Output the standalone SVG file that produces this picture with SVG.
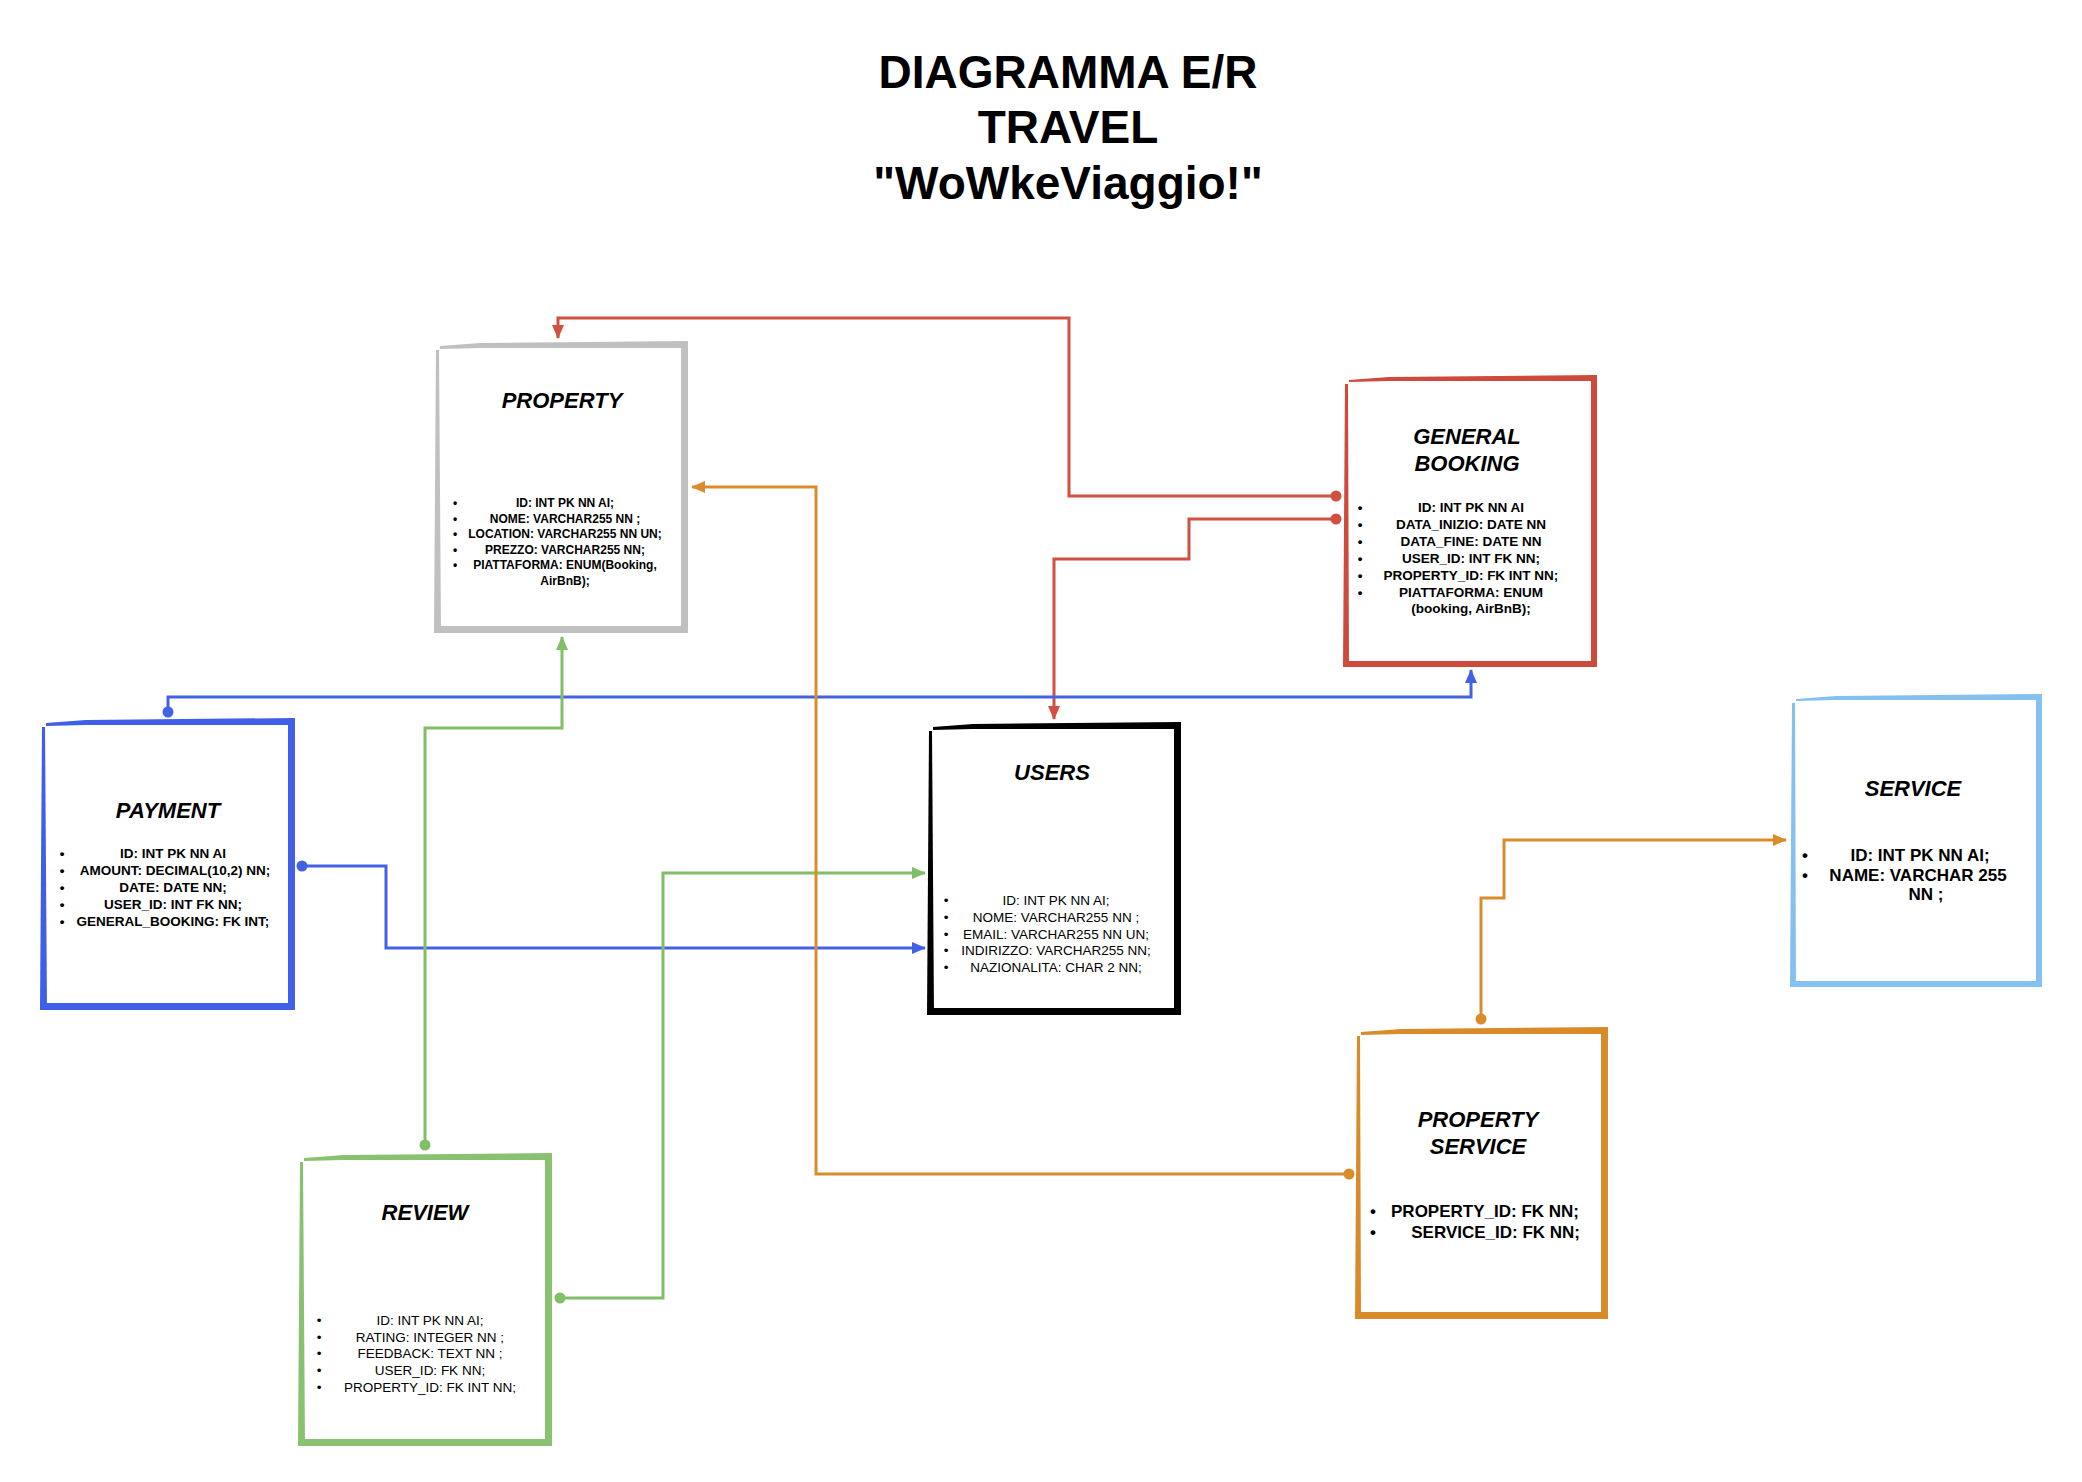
<svg xmlns="http://www.w3.org/2000/svg" width="2082" height="1482" viewBox="0 0 2082 1482">
<style>
text{font-family:"Liberation Sans",Arial,sans-serif;fill:#000}
.h{font-size:46px;font-weight:bold;text-anchor:middle}
.t{font-size:22px;font-weight:bold;font-style:italic;text-anchor:middle}
.a{text-anchor:middle}
.b{text-anchor:middle}
.s12{font-size:12px;font-weight:bold}
.s13b{font-size:13.5px;font-weight:bold}
.s13r{font-size:13.5px}
.s17{font-size:17px;font-weight:bold}
.bg{fill:#fff}
.gray{fill:#C0C0C0}.red{fill:#CE4A3C}.blue{fill:#3F5FE6}.blk{fill:#000}.lb{fill:#85C1F0}.org{fill:#D98B2A}.grn{fill:#88C270}
.c{fill:none;stroke-width:3}
.cr{stroke:#D0513F}.cb{stroke:#4262E6}.cg{stroke:#80BE68}.co{stroke:#D98C2C}
</style>
<defs>
<marker id="ar" viewBox="0 0 14 12" refX="13" refY="6" markerWidth="14" markerHeight="12" markerUnits="userSpaceOnUse" orient="auto"><path d="M0,0 L14,6 L0,12 Z" fill="#D0513F"/></marker>
<marker id="ab" viewBox="0 0 14 12" refX="13" refY="6" markerWidth="14" markerHeight="12" markerUnits="userSpaceOnUse" orient="auto"><path d="M0,0 L14,6 L0,12 Z" fill="#4262E6"/></marker>
<marker id="ag" viewBox="0 0 14 12" refX="13" refY="6" markerWidth="14" markerHeight="12" markerUnits="userSpaceOnUse" orient="auto"><path d="M0,0 L14,6 L0,12 Z" fill="#80BE68"/></marker>
<marker id="ao" viewBox="0 0 14 12" refX="13" refY="6" markerWidth="14" markerHeight="12" markerUnits="userSpaceOnUse" orient="auto"><path d="M0,0 L14,6 L0,12 Z" fill="#D98C2C"/></marker>
</defs>
<rect width="2082" height="1482" fill="#fff"/>

<g id="title">
<text class="h" x="1068" y="88">DIAGRAMMA  E/R</text>
<text class="h" x="1068" y="143">TRAVEL</text>
<text class="h" x="1068" y="199">"WoWkeViaggio!"</text>
</g>

<g id="connectors">
<polyline class="c cr" points="1336,496 1069,496 1069,318 558,318 558,338" marker-end="url(#ar)"/>
<circle cx="1336" cy="496" r="5.5" fill="#D0513F"/>
<polyline class="c cr" points="1336,519 1189,519 1189,559 1054,559 1054,719" marker-end="url(#ar)"/>
<circle cx="1336" cy="519" r="5.5" fill="#D0513F"/>
<polyline class="c cb" points="168,711 168,697 1471,697 1471,670" marker-end="url(#ab)"/>
<circle cx="168" cy="712" r="5.5" fill="#4262E6"/>
<polyline class="c cb" points="302,866 386,866 386,948 925,948" marker-end="url(#ab)"/>
<circle cx="302" cy="866" r="5.5" fill="#4262E6"/>
<polyline class="c cg" points="425,1144 425,728 562,728 562,637" marker-end="url(#ag)"/>
<circle cx="425" cy="1145" r="5.5" fill="#80BE68"/>
<polyline class="c cg" points="559,1298 663,1298 663,873 925,873" marker-end="url(#ag)"/>
<circle cx="560" cy="1298" r="5.5" fill="#80BE68"/>
<polyline class="c co" points="1348,1174 816,1174 816,487 692,487" marker-end="url(#ao)"/>
<circle cx="1349" cy="1174" r="5.5" fill="#D98C2C"/>
<polyline class="c co" points="1481,1019 1481,898 1504,898 1504,840 1786,840" marker-end="url(#ao)"/>
<circle cx="1481" cy="1019" r="5.5" fill="#D98C2C"/>
</g>

<g id="property">
<rect class="bg" x="436" y="343" width="250" height="288"/>
<g class="gray">
<polygon points="440,346 480,343 688,341 688,348 480,348 440,349"/>
<polygon points="436,350 439,350 441,633 434,633"/>
<rect x="681" y="341" width="7" height="292"/>
<rect x="434" y="626" width="254" height="7"/>
</g>
<text class="t" x="562" y="408">PROPERTY</text>
<g class="s12">
<text class="b" x="455" y="507">•</text><text class="b" x="455" y="523">•</text><text class="b" x="455" y="538">•</text><text class="b" x="455" y="554">•</text><text class="b" x="455" y="569">•</text>
<text class="a" x="565" y="507">ID: INT PK NN AI;</text>
<text class="a" x="565" y="523">NOME: VARCHAR255 NN ;</text>
<text class="a" x="565" y="538">LOCATION: VARCHAR255 NN UN;</text>
<text class="a" x="565" y="554">PREZZO: VARCHAR255 NN;</text>
<text class="a" x="565" y="569">PIATTAFORMA: ENUM(Booking,</text>
<text class="a" x="565" y="585">AirBnB);</text>
</g>
</g>

<g id="general-booking" transform="translate(-5,0)">
<rect class="bg" x="1350" y="377" width="250" height="288"/>
<g class="red">
<polygon points="1354,380 1394,377 1602,375 1602,381 1394,381 1354,382"/>
<polygon points="1350,384 1353,384 1354,667 1348,667"/>
<rect x="1596" y="375" width="6" height="292"/>
<rect x="1348" y="661" width="254" height="6"/>
</g>
<text class="t" x="1472" y="444">GENERAL</text>
<text class="t" x="1472" y="471">BOOKING</text>
<g class="s13b">
<text class="b" x="1365" y="512">•</text><text class="b" x="1365" y="529">•</text><text class="b" x="1365" y="546">•</text><text class="b" x="1365" y="563">•</text><text class="b" x="1365" y="580">•</text><text class="b" x="1365" y="597">•</text>
<text class="a" x="1476" y="512">ID: INT PK NN AI</text>
<text class="a" x="1476" y="529">DATA_INIZIO: DATE NN</text>
<text class="a" x="1476" y="546">DATA_FINE: DATE NN</text>
<text class="a" x="1476" y="563">USER_ID: INT FK NN;</text>
<text class="a" x="1476" y="580">PROPERTY_ID: FK INT NN;</text>
<text class="a" x="1476" y="597">PIATTAFORMA: ENUM</text>
<text class="a" x="1476" y="613">(booking, AirBnB);</text>
</g>
</g>

<g id="payment" transform="translate(0,-3)">
<rect class="bg" x="42" y="723" width="251" height="288"/>
<g class="blue">
<polygon points="46,726 86,723 295,721 295,728 86,728 46,729"/>
<polygon points="42,730 45,730 47,1013 40,1013"/>
<rect x="288" y="721" width="7" height="292"/>
<rect x="40" y="1006" width="255" height="7"/>
</g>
<text class="t" x="168" y="821">PAYMENT</text>
<g class="s13b">
<text class="b" x="62" y="861">•</text><text class="b" x="62" y="878">•</text><text class="b" x="62" y="895">•</text><text class="b" x="62" y="912">•</text><text class="b" x="62" y="929">•</text>
<text class="a" x="173" y="861">ID: INT PK NN AI</text>
<text class="a" x="175" y="878">AMOUNT: DECIMAL(10,2)  NN;</text>
<text class="a" x="173" y="895">DATE: DATE NN;</text>
<text class="a" x="173" y="912">USER_ID: INT FK NN;</text>
<text class="a" x="173" y="929">GENERAL_BOOKING: FK INT;</text>
</g>
</g>

<g id="users" transform="translate(-5,-3)">
<rect class="bg" x="934" y="727" width="250" height="289"/>
<g class="blk">
<polygon points="938,730 978,727 1186,725 1186,732 978,732 938,733"/>
<polygon points="934,734 937,734 939,1018 932,1018"/>
<rect x="1179" y="725" width="7" height="293"/>
<rect x="932" y="1011" width="254" height="7"/>
</g>
<text class="t" x="1057" y="783">USERS</text>
<g class="s13r">
<text class="b" x="951" y="908">•</text><text class="b" x="951" y="925">•</text><text class="b" x="951" y="942">•</text><text class="b" x="951" y="958">•</text><text class="b" x="951" y="975">•</text>
<text class="a" x="1061" y="908">ID: INT PK NN AI;</text>
<text class="a" x="1061" y="925">NOME: VARCHAR255 NN ;</text>
<text class="a" x="1061" y="942">EMAIL: VARCHAR255 NN UN;</text>
<text class="a" x="1061" y="958">INDIRIZZO: VARCHAR255 NN;</text>
<text class="a" x="1061" y="975">NAZIONALITA: CHAR 2 NN;</text>
</g>
</g>

<g id="service" transform="translate(-7,0)">
<rect class="bg" x="1799" y="696" width="248" height="289"/>
<g class="lb">
<polygon points="1803,699 1843,696 2049,694 2049,700 1843,700 1803,701"/>
<polygon points="1799,703 1802,703 1803,987 1797,987"/>
<rect x="2043" y="694" width="6" height="293"/>
<rect x="1797" y="981" width="252" height="6"/>
</g>
<text class="t" x="1920" y="796">SERVICE</text>
<g class="s17">
<text class="b" x="1812" y="861">•</text><text class="b" x="1812" y="881">•</text>
<text class="a" x="1927" y="861">ID: INT PK NN AI;</text>
<text class="a" x="1925" y="881">NAME: VARCHAR 255</text>
<text class="a" x="1933" y="900">NN ;</text>
</g>
</g>

<g id="property-service" transform="translate(-5,0)">
<rect class="bg" x="1362" y="1029" width="249" height="288"/>
<g class="org">
<polygon points="1366,1032 1406,1029 1613,1027 1613,1034 1406,1034 1366,1035"/>
<polygon points="1362,1036 1365,1036 1366,1319 1360,1319"/>
<rect x="1606" y="1027" width="7" height="292"/>
<rect x="1360" y="1312" width="253" height="7"/>
</g>
<text class="t" x="1483" y="1127">PROPERTY</text>
<text class="t" x="1483" y="1154">SERVICE</text>
<g class="s17">
<text class="b" x="1378" y="1217">•</text><text class="b" x="1378" y="1238">•</text>
<text x="1584" y="1217" text-anchor="end">PROPERTY_ID: FK NN;</text>
<text x="1585" y="1238" text-anchor="end">SERVICE_ID: FK NN;</text>
</g>
</g>

<g id="review">
<rect class="bg" x="300" y="1155" width="250" height="289"/>
<g class="grn">
<polygon points="304,1158 344,1155 552,1153 552,1160 344,1160 304,1161"/>
<polygon points="300,1162 303,1162 305,1446 298,1446"/>
<rect x="545" y="1153" width="7" height="293"/>
<rect x="298" y="1439" width="254" height="7"/>
</g>
<text class="t" x="425" y="1220">REVIEW</text>
<g class="s13r">
<text class="b" x="319" y="1325">•</text><text class="b" x="319" y="1342">•</text><text class="b" x="319" y="1358">•</text><text class="b" x="319" y="1375">•</text><text class="b" x="319" y="1392">•</text>
<text class="a" x="430" y="1325">ID: INT PK NN AI;</text>
<text class="a" x="430" y="1342">RATING: INTEGER NN ;</text>
<text class="a" x="430" y="1358">FEEDBACK: TEXT NN ;</text>
<text class="a" x="430" y="1375">USER_ID: FK NN;</text>
<text class="a" x="430" y="1392">PROPERTY_ID: FK INT NN;</text>
</g>
</g>
</svg>
